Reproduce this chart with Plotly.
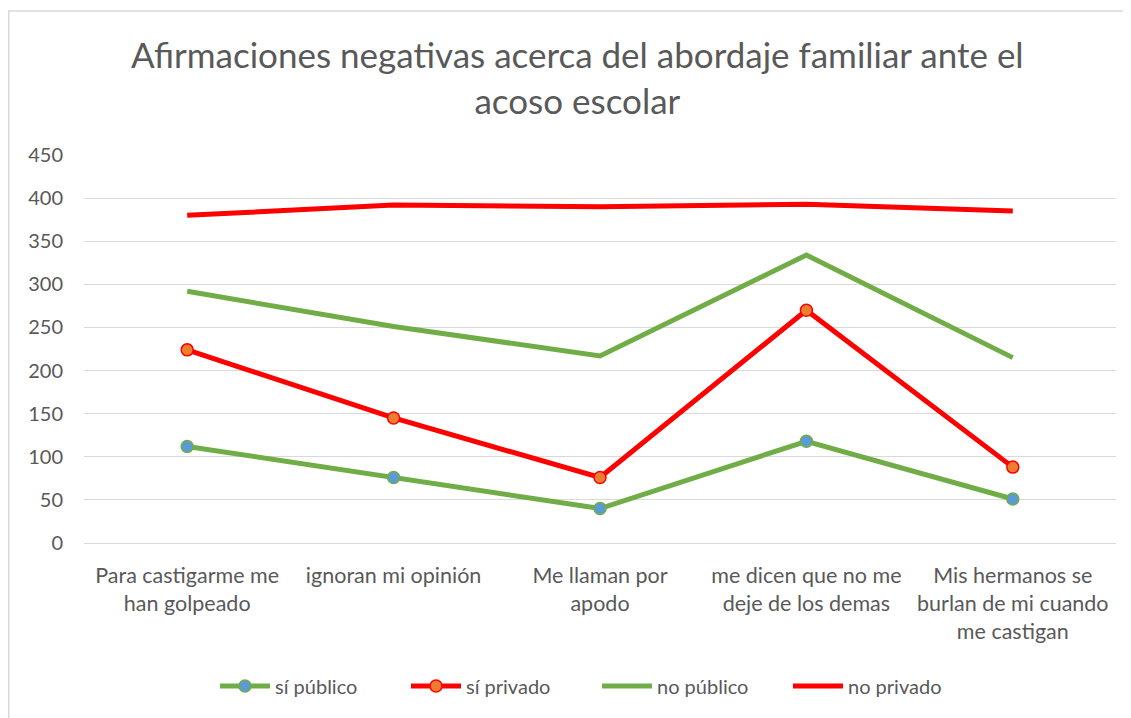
import plotly.graph_objects as go

categories = [
    "Para castigarme me<br>han golpeado",
    "ignoran mi opinión",
    "Me llaman por<br>apodo",
    "me dicen que no me<br>deje de los demas",
    "Mis hermanos se<br>burlan de mi cuando<br>me castigan",
]
si_publico = [112, 76, 40, 118, 51]
si_privado = [224, 145, 76, 270, 88]
no_publico = [292, 251, 217, 334, 215]
no_privado = [380, 392, 390, 393, 385]

GREEN = "#70AD47"
RED = "#FF0000"
TXT = "#595959"
FONT = "Lato"

fig = go.Figure()
fig.add_trace(go.Scatter(
    x=categories, y=si_publico, name="sí público", mode="lines+markers",
    line=dict(color=GREEN, width=5),
    marker=dict(size=12, color="#5B9BD5", line=dict(color=GREEN, width=1.5)),
))
fig.add_trace(go.Scatter(
    x=categories, y=si_privado, name="sí privado", mode="lines+markers",
    line=dict(color=RED, width=5),
    marker=dict(size=12, color="#ED7D31", line=dict(color=RED, width=1.5)),
))
fig.add_trace(go.Scatter(
    x=categories, y=no_publico, name="no público", mode="lines",
    line=dict(color=GREEN, width=5),
))
fig.add_trace(go.Scatter(
    x=categories, y=no_privado, name="no privado", mode="lines",
    line=dict(color=RED, width=5),
))

# page body has an 8px offset, so the figure is 8px smaller than the window
W, H = 1123, 710
L, R, T, B = 76, 15, 147, 175
pw = W - L - R
ph = H - T - B

fig.update_layout(
    width=W, height=H,
    margin=dict(l=L, r=R, t=T, b=B, autoexpand=False),
    paper_bgcolor="white", plot_bgcolor="white",
    font=dict(family=FONT, color=TXT, size=20),
    title=dict(
        text="Afirmaciones negativas acerca del abordaje familiar ante el<br>acoso escolar",
        x=0.507, xanchor="center", y=0.915, yanchor="top", yref="container",
        font=dict(family=FONT, size=35, color=TXT),
    ),
    xaxis=dict(
        showgrid=False, showline=False, zeroline=False,
        ticks="outside", ticklen=13, tickcolor="rgba(0,0,0,0)",
        tickfont=dict(family=FONT, size=21.5, color=TXT),
        range=[-0.5, 4.5],
    ),
    yaxis=dict(
        range=[0, 450], dtick=50, showgrid=True, gridcolor="#D9D9D9", gridwidth=1,
        zeroline=True, zerolinecolor="#D9D9D9", zerolinewidth=1,
        showline=False, ticks="outside", ticklen=16, tickcolor="rgba(0,0,0,0)",
        tickfont=dict(family=FONT, size=20, color=TXT),
    ),
    legend=dict(
        orientation="h", x=(573 + 16 - L) / pw, xanchor="center",
        y=(H - 678) / H, yref="container", yanchor="middle",
        font=dict(family=FONT, size=20, color=TXT),
        itemwidth=50, entrywidth=126, traceorder="normal",
    ),
    showlegend=True,
    shapes=[dict(
        type="rect", xref="paper", yref="paper",
        x0=(0.75 - L) / pw, x1=(1130 - L) / pw,
        y0=(T + ph - 720) / ph, y1=(T + ph - 3) / ph,
        line=dict(color="#D9D9D9", width=1.5), fillcolor="rgba(0,0,0,0)", layer="below",
    )],
)

fig.write_html("out.html")
